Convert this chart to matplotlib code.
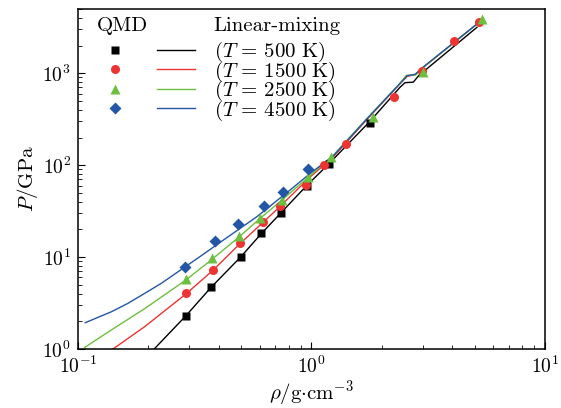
import matplotlib
matplotlib.use("Agg")
import matplotlib.pyplot as plt
from matplotlib.legend_handler import HandlerTuple

plt.rcParams.update({
    "font.family": "serif",
    "font.serif": ["cmr10", "DejaVu Serif"],
    "mathtext.fontset": "cm",
    "axes.formatter.use_mathtext": True,
    "font.size": 15,
})

# QMD points (density in g/cm^3, pressure in GPa)
qmd_500_rho = [0.289, 0.372, 0.497, 0.610, 0.742, 0.954, 1.19, 1.78]
qmd_500_p = [2.29, 4.72, 10.07, 18.1, 30.3, 59.6, 104, 288]
qmd_1500_rho = [0.291, 0.379, 0.494, 0.622, 0.733, 0.946, 1.13, 1.41, 2.26, 2.98, 4.07, 5.20]
qmd_1500_p = [4.09, 7.22, 14.1, 24.2, 36.0, 60.6, 100, 169, 548, 1051, 2244, 3583]
qmd_2500_rho = [0.289, 0.374, 0.489, 0.604, 0.746, 0.969, 1.21, 1.83, 3.01, 5.37]
qmd_2500_p = [5.72, 9.77, 16.9, 26.8, 41.6, 74.6, 123, 335, 1040, 3894]
qmd_4500_rho = [0.286, 0.385, 0.485, 0.624, 0.755, 0.965]
qmd_4500_p = [7.85, 14.9, 22.7, 35.8, 51.2, 92]

# linear-mixing curves
lm_500_rho = [0.212, 0.289, 0.372, 0.497, 0.61, 0.742, 0.954, 1.19, 1.78, 2.39, 2.515, 2.729, 2.889, 5.115]
lm_500_p = [1.0, 2.28, 4.7, 10.0, 18.0, 30.5, 60, 104, 300, 700, 790, 800, 951, 3162]
lm_1500_rho = [0.1412, 0.1931, 0.291, 0.379, 0.494, 0.622, 0.733, 0.985, 1.24, 1.72, 2.39, 2.57, 2.78, 3.0, 5.16]
lm_1500_p = [1.0, 1.75, 4.0, 7.2, 14.0, 24.0, 35.5, 74, 123, 310, 765, 925, 965, 1150, 3495]
lm_2500_rho = [0.1068, 0.1389, 0.1931, 0.289, 0.374, 0.489, 0.604, 0.746, 0.969, 1.24, 1.72, 2.39, 2.55, 2.80, 3.0, 5.18]
lm_2500_p = [1.04, 1.61, 2.75, 5.6, 9.4, 16.5, 26.5, 41.5, 74, 128, 318, 775, 950, 960, 1150, 3520]
lm_4500_rho = [0.1074, 0.1218, 0.1389, 0.1637, 0.1931, 0.2274, 0.2682, 0.3400, 0.4192, 0.5824, 0.8091, 0.985, 1.24, 1.72, 2.39, 2.57, 2.78, 3.0, 5.16]
lm_4500_p = [1.93, 2.21, 2.54, 3.14, 4.03, 5.18, 6.92, 10.5, 15.3, 27.4, 53.5, 81, 126, 315, 770, 940, 975, 1160, 3495]

temps = ["500", "1500", "2500", "4500"]
colors = ["#000000", "#ee3333", "#6cbf3f", "#2356a6"]
markers = ["s", "o", "^", "D"]
msizes = [6, 6.5, 7, 6]

qmd_rho = [qmd_500_rho, qmd_1500_rho, qmd_2500_rho, qmd_4500_rho]
qmd_p = [qmd_500_p, qmd_1500_p, qmd_2500_p, qmd_4500_p]
lm_rho = [lm_500_rho, lm_1500_rho, lm_2500_rho, lm_4500_rho]
lm_p = [lm_500_p, lm_1500_p, lm_2500_p, lm_4500_p]

fig = plt.figure(figsize=(5.61, 4.08), dpi=100)
ax = fig.add_axes([0.139, 0.1446, 0.8324, 0.8333])

handles = []
labels = []
for i, t in enumerate(temps):
    line, = ax.plot(lm_rho[i], lm_p[i], color=colors[i], lw=1.0, zorder=2)
    pts, = ax.plot(qmd_rho[i], qmd_p[i], ls="none", marker=markers[i],
                   ms=msizes[i], color=colors[i], mec="none", zorder=3)
    handles.append((pts, line))
    labels.append(r"$(T\,=\,%s\ \mathrm{K})$" % t)

ax.set_xscale("log")
ax.set_yscale("log")
ax.set_xlim(0.1, 10)
ax.set_ylim(1, 5000)

ax.tick_params(which="both", direction="in", top=False, right=False, labelsize=14)
ax.tick_params(which="major", length=5, width=0.8, pad=5)
ax.tick_params(which="minor", length=3, width=0.6)
for sp in ax.spines.values():
    sp.set_linewidth(1.1)

ax.set_xlabel(r"$\rho/\mathrm{g{\cdot}cm^{-3}}$", labelpad=1)
ax.set_ylabel(r"$P/\mathrm{GPa}$", labelpad=2)

ax.legend(handles, labels, loc="upper left", bbox_to_anchor=(0.038, 0.909),
          frameon=False, borderpad=0, borderaxespad=0, handlelength=4.75,
          handletextpad=0.95, labelspacing=-0.22,
          handler_map={tuple: HandlerTuple(ndivide=None, pad=1.1)})
ax.text(0.041, 0.95, "QMD", transform=ax.transAxes, va="center", ha="left")
ax.text(0.289, 0.95, "Linear-mixing", transform=ax.transAxes, va="center", ha="left")

fig.savefig("out.png", dpi=100)
